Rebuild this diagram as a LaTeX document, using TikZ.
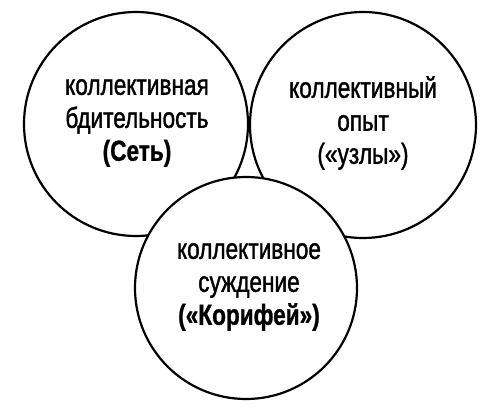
\documentclass[tikz,border=0pt]{standalone}
\usepackage{fontspec}
\setmainfont{Liberation Sans}[FakeStretch=0.78, UprightFeatures={FakeBold=1.3}, BoldFeatures={FakeBold=1}]
\usepackage{tikz}
\usetikzlibrary{positioning}

\begin{document}
\begin{tikzpicture}
        [x=0.5pt, y=0.5pt,
        ring/.style = {draw=black, circle, fill=white, line width=1.1pt, inner sep=0pt},
        words/.style = {text=black, align=center, font=\fontsize{14.5}{16.5}\selectfont}]
        \useasboundingbox (0,0) rectangle (500,414);

        \node[ring,minimum size=112pt] (vigil) at (136,290) {};
        \node[ring,minimum size=113pt,fill=none] (exper) at (363,289) {};
        \node[ring,minimum size=111pt] (judge) at (246,126) {};

        \node[words] (vigiltxt) at (137,291) {коллективная\\ бдительность\\ \textbf{(Сеть)}};
        \node[words] (expertxt) at (363,291) {коллективный\\ опыт\\ («узлы»)};
        \node[words] (judgetxt) at (249,127) {коллективное\\ суждение\\ \textbf{(«Корифей»)}};

    \end{tikzpicture}
\end{document}
